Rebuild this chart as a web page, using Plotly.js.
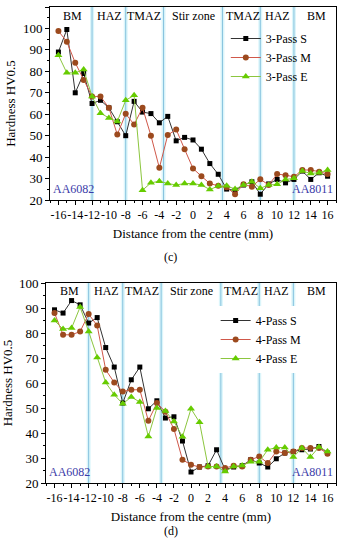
<!DOCTYPE html>
<html><head><meta charset="utf-8">
<script src="https://cdn.plot.ly/plotly-3.0.1.min.js"></script>
<style>html,body{margin:0;padding:0;background:#fff}#chart{width:340px;height:550px}</style>
</head><body><div id="chart"></div>
<script>
const xs = [-16,-15,-14,-13,-12,-11,-10,-9,-8,-7,-6,-5,-4,-3,-2,-1,0,1,2,3,4,5,6,7,8,9,10,11,12,13,14,15,16];

const c_S = [89,99.5,70,79,65,66.5,63,56.5,50,66,61,60.3,56,59,47.6,49.2,48,43.7,37,32,25.1,24.5,27,28.5,22.7,27.5,29.6,28,29.6,33.5,29.6,32.7,31.1];
const c_M = [98.8,93.8,84,76,68.3,68.3,63,50.5,60.2,55.2,63,50,35,50.3,52.9,43.7,34.7,31.1,27.7,26.6,25.9,22.7,27.4,26.2,29.7,27,32.1,31.6,30.8,34,34,33.2,32.1];
const c_E = [87.5,79.3,79.3,80.8,68.3,60.5,58.3,56.6,66.5,68.8,24.6,28,28.8,27.7,27,27.7,27.7,27,24.9,26.5,26.6,25.1,27,28.5,25.5,27,27.3,29.6,30.1,33.5,32.4,32.7,34];

const d_S = [89.3,88,93,91.3,84,86.2,74.2,66.4,52,61.3,66.4,49.7,52.9,46,46.5,36.8,24.4,26.4,26.9,33.3,25.3,26.4,26.9,29.3,28,26.4,29.7,32,32.6,33.3,33.6,34.6,32];
const d_M = [88,79.3,79.3,80.6,87.6,83,65.3,60.2,56.6,57.3,57.3,44.9,52,48.5,41.6,29.3,27.3,26.4,26.6,26.6,26,26.9,26.6,29.3,30.6,28,32.6,32,32.6,34,34,34,31.7];
const d_E = [85,81.6,82,90.4,80.6,70.2,60.2,55.3,51.7,54.4,52.4,38.6,50,48.8,44.6,38.5,49.7,44.3,26.6,26.6,24.6,26.6,27,28.5,28.5,33.3,34.2,34.2,30.4,34,30.4,34.4,32.6];

const zoneLabels = ["BM","HAZ","TMAZ","Stir zone","TMAZ","HAZ","BM"];
const zoneLabelX = [-14.3,-9.9,-5.8,0,5.9,10,14.7];
const boundaries = [-12,-8,-3.5,3.5,8,12];
const tickVals = [-16,-14,-12,-10,-8,-6,-4,-2,0,2,4,6,8,10,12,14,16];
const tickText = ["-16","-14","-12","-10","-8","-6","-4","-2","0","2","4","6","8","10","12","14","16"];
const yTicksC = [20,30,40,50,60,70,80,90,100,110];
const yTicksD = [20,30,40,50,60,70,80,90,100];
const names3 = ["3-Pass S","3-Pass M","3-Pass E"];
const names4 = ["4-Pass S","4-Pass M","4-Pass E"];

const FONT = "Liberation Serif, Times New Roman, serif";
const styles = [
  {line:{color:"#333333",width:1}, marker:{symbol:"square",color:"#000000",size:5}},
  {line:{color:"#d0584a",width:1}, marker:{symbol:"circle",color:"#9c4a1e",size:6}},
  {line:{color:"#8cc63f",width:1}, marker:{symbol:"triangle-up",color:"#66cc00",size:7}}
];

const traces = [];
[c_S,c_M,c_E].forEach((ys,i)=>traces.push(Object.assign({x:xs,y:ys,name:names3[i],type:"scatter",mode:"lines+markers",xaxis:"x",yaxis:"y",legend:"legend"},JSON.parse(JSON.stringify(styles[i])))));
[d_S,d_M,d_E].forEach((ys,i)=>traces.push(Object.assign({x:xs,y:ys,name:names4[i],type:"scatter",mode:"lines+markers",xaxis:"x2",yaxis:"y2",legend:"legend2"},JSON.parse(JSON.stringify(styles[i])))));

const shapes = [];
[["x","y"],["x2","y2"]].forEach(([xr,yr])=>{
  boundaries.forEach(b=>{
    shapes.push({type:"line",xref:xr,yref:yr+" domain",x0:b,x1:b,y0:0,y1:1,line:{color:"rgba(175,232,245,0.45)",width:4},layer:"below"});
    shapes.push({type:"line",xref:xr,yref:yr+" domain",x0:b,x1:b,y0:0,y1:1,line:{color:"#86c2de",width:1},layer:"below"});
  });
});

const annotations = [];
zoneLabels.forEach((t,i)=>{
  annotations.push({xref:"x",yref:"y",x:zoneLabelX[i],y:105.8,text:t,showarrow:false,font:{family:FONT,size:12,color:"#000"}});
  annotations.push({xref:"x2",yref:"y2",x:zoneLabelX[i],y:96.9,text:t,showarrow:false,font:{family:FONT,size:12,color:"#000"}});
});
annotations.push({xref:"x domain",yref:"y domain",x:0.005,y:0.01,xanchor:"left",yanchor:"bottom",text:"AA6082",showarrow:false,font:{family:FONT,size:12,color:"#3a3aa8"}});
annotations.push({xref:"x domain",yref:"y domain",x:0.995,y:0.01,xanchor:"right",yanchor:"bottom",text:"AA8011",showarrow:false,font:{family:FONT,size:12,color:"#3a3aa8"}});
annotations.push({xref:"x2 domain",yref:"y2 domain",x:0.005,y:0.01,xanchor:"left",yanchor:"bottom",text:"AA6082",showarrow:false,font:{family:FONT,size:12,color:"#3a3aa8"}});
annotations.push({xref:"x2 domain",yref:"y2 domain",x:0.995,y:0.01,xanchor:"right",yanchor:"bottom",text:"AA8011",showarrow:false,font:{family:FONT,size:12,color:"#3a3aa8"}});
annotations.push({xref:"paper",yref:"paper",x:0.43,y:(483-257)/476,text:"(c)",showarrow:false,font:{family:FONT,size:12,color:"#000"}});
annotations.push({xref:"paper",yref:"paper",x:0.43,y:(483-540)/476,text:"(d)",showarrow:false,font:{family:FONT,size:12,color:"#000"}});

function xax(domain){
  return {domain:domain,range:[-17,17],tickmode:"array",tickvals:tickVals,ticktext:tickText,tickangle:0,ticks:"outside",ticklen:4,tickcolor:"#000",
    minor:{dtick:1,tick0:0,ticks:"outside",ticklen:2,tickcolor:"#000"},
    showline:true,linecolor:"#000",linewidth:1,mirror:true,showgrid:false,zeroline:false,
    tickfont:{family:FONT,size:12,color:"#000"},
    title:{text:"Distance from the centre (mm)",font:{family:FONT,size:13,color:"#000"},standoff:7}};
}
function yax(domain,range,tv){
  return {domain:domain,range:range,tickmode:"array",tickvals:tv,ticks:"outside",ticklen:4,tickcolor:"#000",
    minor:{dtick:5,tick0:0,ticks:"outside",ticklen:2,tickcolor:"#000"},
    showline:true,linecolor:"#000",linewidth:1,mirror:true,showgrid:false,zeroline:false,
    tickfont:{family:FONT,size:13,color:"#000"},
    title:{text:"Hardness HV0.5",font:{family:FONT,size:13,color:"#000"},standoff:4}};
}

const layout = {
  width:340,height:550,margin:{l:46,r:4,t:7,b:67},
  paper_bgcolor:"#fff",plot_bgcolor:"#fff",showlegend:true,
  xaxis:Object.assign(xax([0.0138,1]),{anchor:"y"}),
  yaxis:Object.assign(yax([0.5945,1],[20,110],yTicksC),{anchor:"x"}),
  xaxis2:Object.assign(xax([0,1]),{anchor:"y2"}),
  yaxis2:Object.assign(yax([0,0.42],[20,100],yTicksD),{anchor:"x2"}),
  legend:{x:0.62,y:(483-24)/476,xanchor:"left",yanchor:"top",bgcolor:"rgba(255,255,255,0)",font:{family:FONT,size:12,color:"#000"},itemwidth:30,tracegroupgap:0},
  legend2:{x:0.585,y:(483-306)/476,xanchor:"left",yanchor:"top",bgcolor:"#fff",font:{family:FONT,size:12,color:"#000"},itemwidth:30,tracegroupgap:0},
  shapes:shapes,annotations:annotations
};
Plotly.newPlot("chart",traces,layout,{displayModeBar:false,staticPlot:true});
</script></body></html>
